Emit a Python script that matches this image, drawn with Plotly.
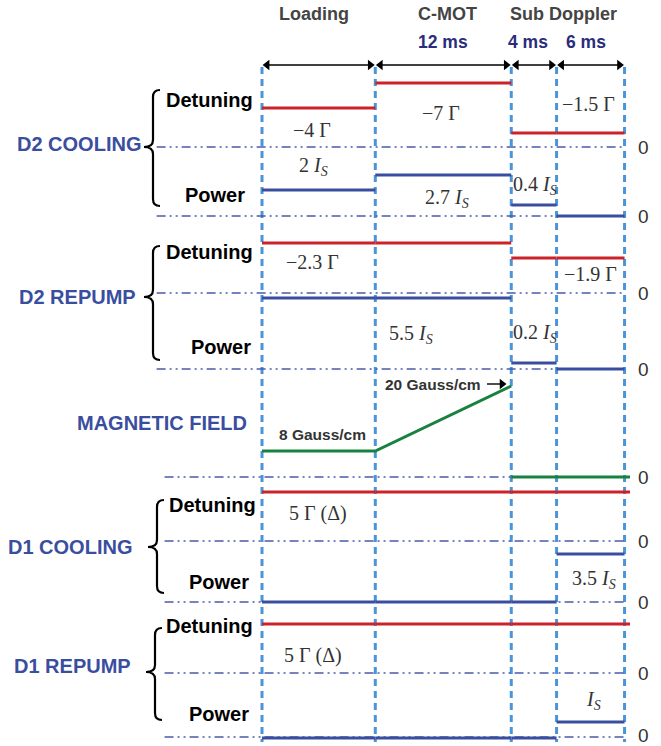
import plotly.graph_objects as go

# ------------------------------------------------------------------ data
phase_names = ["Loading", "C-MOT", "Sub Doppler"]
segment_durations_ms = [10, 12, 4, 6]          # Loading (schematic), C-MOT, Sub-Doppler 1, Sub-Doppler 2
duration_labels = ["", "12 ms", "4 ms", "6 ms"]

row_names = ["D2 COOLING", "D2 REPUMP", "MAGNETIC FIELD", "D1 COOLING", "D1 REPUMP"]

# values per segment (units: Gamma for detuning, I_S for power)
d2_cool_detuning = [-4, -7, -1.5, -1.5]
d2_cool_power = [2, 2.7, 0.4, 0]
d2_rep_detuning = [-2.3, -2.3, -1.9, -1.9]
d2_rep_power = [5.5, 5.5, 0.2, 0]
mag_field = [8, 20, 0]                         # Gauss/cm: loading, end of C-MOT ramp, sub-Doppler
d1_cool_detuning = [5, 5, 5, 5]
d1_cool_power = [0, 0, 0, 3.5]
d1_rep_detuning = [5, 5, 5, 5]
d1_rep_power = [0, 0, 0, 1]

# schematic drawn heights above each zero line (arb. units)
d2_cool_detuning_level = [39, 64, 14, 14]
d2_cool_power_level = [26, 41, 11, 0]
d2_rep_detuning_level = [50, 50, 35, 35]
d2_rep_power_level = [71, 71, 6, 0]
mag_field_level = [26, 91, 0]
d1_cool_detuning_level = [49, 49, 49, 49]
d1_cool_power_level = [0, 0, 0, 48]
d1_rep_detuning_level = [49, 49, 49, 49]
d1_rep_power_level = [-1, -1, -1, 15]

# ------------------------------------------------------------------ layout helpers
W, H = 661, 746
PX_PER_MS = 11.33
T0_PX = 262.0


def t_of(px):
    return (px - T0_PX) / PX_PER_MS


bounds = [0.0]
for d in segment_durations_ms:
    bounds.append(bounds[-1] + d)
T_END = bounds[-1]
T_EXT = t_of(630)

# zero-line positions (vertical axis units, top = 0)
Z = {
    "d2c_det": 147, "d2c_pow": 216,
    "d2r_det": 293, "d2r_pow": 369,
    "mag": 477,
    "d1c_det": 541, "d1c_pow": 602,
    "d1r_det": 673, "d1r_pow": 737,
}

RED = "#cc2229"
BLUE = "#3a4ea0"
GREEN = "#17813f"
VBLUE = "#4a94d8"
ZCOL = "#4a5bab"
TXT = "#333333"

fig = go.Figure()

# vertical dashed phase boundaries
vx, vy = [], []
for b in bounds:
    vx += [b, b, None]
    vy += [67, 742, None]
fig.add_trace(go.Scatter(x=vx, y=vy, mode="lines",
                         line=dict(color=VBLUE, width=3, dash="7px,5px"),
                         hoverinfo="skip", showlegend=False))

# zero lines
zero_start = {"d2c_det": -9.3, "d2c_pow": -9.3, "d2r_det": -9.3, "d2r_pow": -9.3,
              "mag": -8.6, "d1c_det": -8.6, "d1c_pow": -8.6, "d1r_det": -8.6, "d1r_pow": -8.6}
zx, zy = [], []
for k, z in Z.items():
    zx += [zero_start[k], T_END, None]
    zy += [z, z, None]
fig.add_trace(go.Scatter(x=zx, y=zy, mode="lines",
                         line=dict(color=ZCOL, width=1.4, dash="9px,4px,2px,4px,2px,4px"),
                         hoverinfo="skip", showlegend=False))


def step(levels, zero, color, extend_last=False):
    xs, ys = [], []
    for i, lev in enumerate(levels):
        x1 = bounds[i + 1]
        if extend_last and i == len(levels) - 1:
            x1 = T_EXT
        xs += [bounds[i], x1, None]
        ys += [zero - lev, zero - lev, None]
    fig.add_trace(go.Scatter(x=xs, y=ys, mode="lines",
                             line=dict(color=color, width=3),
                             hoverinfo="skip", showlegend=False))


step(d2_cool_detuning_level, Z["d2c_det"], RED)
step(d2_cool_power_level, Z["d2c_pow"], BLUE)
step(d2_rep_detuning_level, Z["d2r_det"], RED)
step(d2_rep_power_level, Z["d2r_pow"], BLUE)
step(d1_cool_detuning_level, Z["d1c_det"], RED, extend_last=True)
step(d1_cool_power_level, Z["d1c_pow"], BLUE)
step(d1_rep_detuning_level, Z["d1r_det"], RED, extend_last=True)
step(d1_rep_power_level, Z["d1r_pow"], BLUE)

# magnetic field: flat loading, linear ramp in C-MOT, off afterwards
mz = Z["mag"]
fig.add_trace(go.Scatter(
    x=[bounds[0], bounds[1], bounds[2], None, bounds[2], T_EXT],
    y=[mz - mag_field_level[0], mz - mag_field_level[0], mz - mag_field_level[1], None,
       mz - mag_field_level[2], mz - mag_field_level[2]],
    mode="lines", line=dict(color=GREEN, width=3), hoverinfo="skip", showlegend=False))

# double-headed duration arrows (shaft + triangle heads)
ARR_Y = 65
HEAD = 0.45  # ms inset of triangle centre from the boundary
sx, sy, hx, hy, hs = [], [], [], [], []
for i in range(4):
    sx += [bounds[i] + 0.3, bounds[i + 1] - 0.3, None]
    sy += [ARR_Y, ARR_Y, None]
    hx += [bounds[i] + HEAD, bounds[i + 1] - HEAD]
    hy += [ARR_Y, ARR_Y]
    hs += ["triangle-left", "triangle-right"]
# arrow pointing to the 20 Gauss/cm ramp end
sx += [t_of(487), t_of(502), None]
sy += [384, 384, None]
hx += [t_of(502)]
hy += [384]
hs += ["triangle-right"]
fig.add_trace(go.Scatter(x=sx, y=sy, mode="lines", line=dict(color="black", width=1.4),
                         hoverinfo="skip", showlegend=False))
fig.add_trace(go.Scatter(x=hx, y=hy, mode="markers",
                         marker=dict(symbol=hs, size=9, color="black", line=dict(width=0)),
                         hoverinfo="skip", showlegend=False))

ann = []


def text(px, py, s, size=17, color=TXT, family="Liberation Sans", bold=False, xanchor="center"):
    if bold:
        s = "<b>" + s + "</b>"
    ann.append(dict(x=t_of(px), y=py, text=s, showarrow=False, xanchor=xanchor, yanchor="middle",
                    font=dict(size=size, color=color, family=family)))


# headers
hdr_px = [314, 447, 563]
for name, px in zip(phase_names, hdr_px):
    text(px, 14, name, size=18, color="#444444", bold=True)
dur_px = [None, 443, 528, 586]
for lab, px in zip(duration_labels, dur_px):
    if lab:
        text(px, 42, lab, size=17.5, color="#2a2d7c", bold=True)

# row labels
row_pos = [(79, 144), (77, 297), (162, 423), (70, 547), (72, 666)]
for name, (px, py) in zip(row_names, row_pos):
    text(px, py, name, size=20, color=BLUE, bold=True)

sub_pos = [((209, 100), (215, 195)), ((209, 252), (221, 347)),
           ((212, 505), (219, 582)), ((209, 626), (219, 714))]
for (dpos, ppos) in sub_pos:
    text(dpos[0], dpos[1], "Detuning", size=20, color="black", bold=True)
    text(ppos[0], ppos[1], "Power", size=20, color="black", bold=True)

# zero labels
for z in Z.values():
    text(643, min(z, 735), "0", size=19, color=TXT)


def fmt(v):
    s = ("%g" % abs(v))
    return ("\u2212" if v < 0 else "") + s


IS = "<i>I</i><sub><i>S</i></sub>"
SERIF = "Liberation Serif, Times New Roman, serif"


def gam(v):
    return fmt(v) + " \u0393"


def isat(v):
    return (fmt(v) + " " if v != 1 else "") + IS


math_labels = [
    (312, 130, gam(d2_cool_detuning[0])),
    (441, 113, gam(d2_cool_detuning[1])),
    (588, 104, gam(d2_cool_detuning[2])),
    (313, 166, isat(d2_cool_power[0])),
    (447, 198, isat(d2_cool_power[1])),
    (535, 185, isat(d2_cool_power[2])),
    (312, 262, gam(d2_rep_detuning[0])),
    (590, 274, gam(d2_rep_detuning[2])),
    (411, 334, isat(d2_rep_power[0])),
    (535, 333, isat(d2_rep_power[2])),
    (318, 513, fmt(d1_cool_detuning[0]) + " \u0393 (\u0394)"),
    (594, 579, isat(d1_cool_power[3])),
    (313, 655, fmt(d1_rep_detuning[0]) + " \u0393 (\u0394)"),
    (593, 700, isat(d1_rep_power[3])),
]
for px, py, s in math_labels:
    text(px, py, s, size=20, color=TXT, family=SERIF)

# magnetic field labels
text(322, 434, "%g Gauss/cm" % mag_field[0], size=15.5, color=TXT, bold=True)
text(433, 384, "%g Gauss/cm" % mag_field[1], size=15.5, color=TXT, bold=True)

# braces
shapes = []
brace_spans = [(90, 206, 147, 144), (246, 360, 297, 144), (500, 593, 547, 148), (628, 720, 672, 146)]
for y0, y1, ym, tip in brace_spans:
    sp = tip + 9
    e = sp + 7
    r = 7
    pts = (f"M {t_of(e)},{y0} Q {t_of(sp)},{y0} {t_of(sp)},{y0 + r} "
           f"L {t_of(sp)},{ym - r} Q {t_of(sp)},{ym} {t_of(tip)},{ym} "
           f"Q {t_of(sp)},{ym} {t_of(sp)},{ym + r} "
           f"L {t_of(sp)},{y1 - r} Q {t_of(sp)},{y1} {t_of(e)},{y1}")
    shapes.append(dict(type="path", path=pts, xref="x", yref="y",
                       line=dict(color="black", width=2.2)))

fig.update_layout(
    width=W, height=H, margin=dict(l=0, r=0, t=0, b=0, pad=0),
    paper_bgcolor="white", plot_bgcolor="white",
    xaxis=dict(range=[t_of(0), t_of(W)], visible=False, fixedrange=True),
    yaxis=dict(range=[H, 0], visible=False, fixedrange=True),
    annotations=ann, shapes=shapes, showlegend=False,
)

fig.write_html("out.html")
